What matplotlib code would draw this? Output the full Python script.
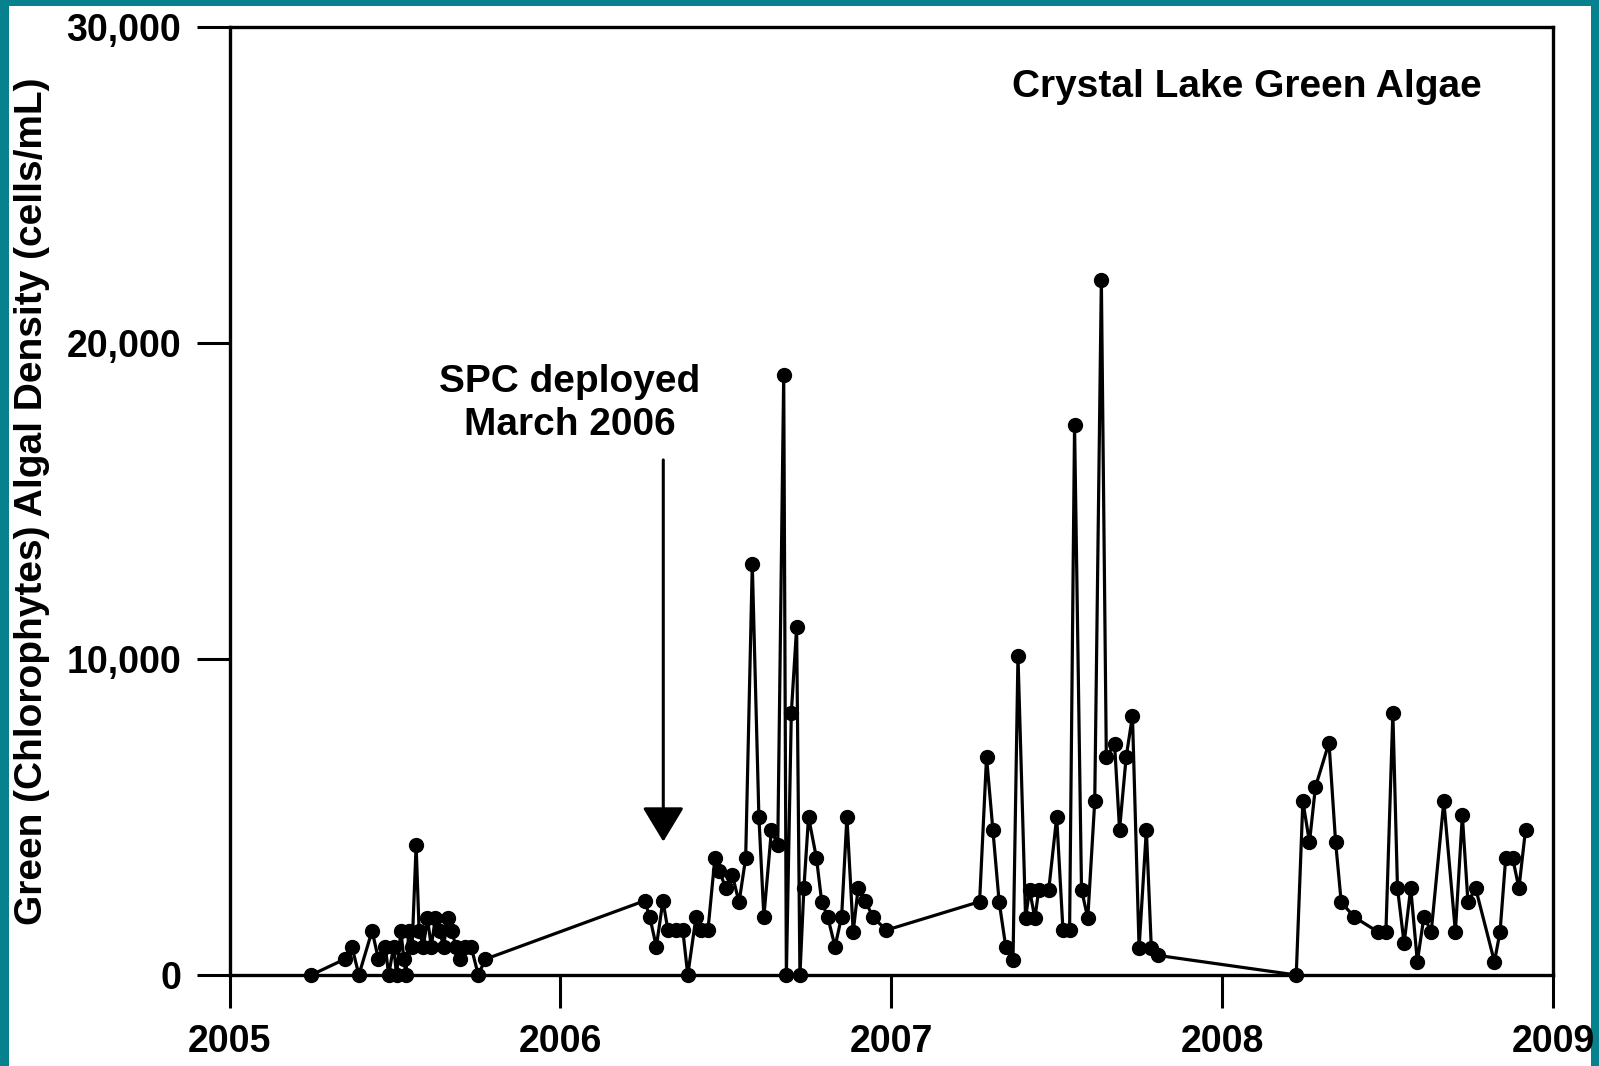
import matplotlib
matplotlib.use("Agg")
import matplotlib.pyplot as plt
from matplotlib.patches import Rectangle

# ---- data (decimal year, cells/mL) ----
years_2005 = [2005.247, 2005.348, 2005.370, 2005.391, 2005.431, 2005.450, 2005.471, 2005.481,
              2005.496, 2005.505, 2005.518, 2005.527, 2005.533, 2005.542, 2005.552, 2005.564,
              2005.573, 2005.586, 2005.598, 2005.610, 2005.622, 2005.635, 2005.647, 2005.659,
              2005.672, 2005.684, 2005.696, 2005.712, 2005.730, 2005.752, 2005.773]
vals_2005 = [0, 500, 900, 0, 1400, 500, 900, 0,
             900, 0, 1400, 500, 0, 1400, 900, 4100,
             1400, 900, 1800, 900, 1800, 1400, 900, 1800,
             1400, 900, 500, 900, 900, 0, 500]

years_2006 = [2006.255, 2006.270, 2006.290, 2006.310, 2006.325, 2006.350, 2006.370, 2006.385,
              2006.410, 2006.425, 2006.446, 2006.467, 2006.480, 2006.500, 2006.520, 2006.540,
              2006.560, 2006.580, 2006.600, 2006.615, 2006.638, 2006.657, 2006.675, 2006.683,
              2006.698, 2006.714, 2006.724, 2006.736, 2006.750, 2006.774, 2006.790, 2006.808,
              2006.830, 2006.850, 2006.866, 2006.885, 2006.900, 2006.922, 2006.944, 2006.985]
vals_2006 = [2350, 1840, 900, 2350, 1420, 1420, 1420, 0,
             1840, 1420, 1420, 3700, 3300, 2750, 3150, 2300,
             3700, 13000, 5000, 1840, 4600, 4100, 19000, 0,
             8300, 11000, 0, 2750, 5000, 3700, 2300, 1840,
             900, 1840, 5000, 1360, 2750, 2350, 1840, 1420]

years_2007 = [2007.267, 2007.288, 2007.307, 2007.326, 2007.346, 2007.368, 2007.383, 2007.406,
              2007.418, 2007.434, 2007.446, 2007.476, 2007.500, 2007.519, 2007.539, 2007.554,
              2007.575, 2007.594, 2007.615, 2007.635, 2007.650, 2007.675, 2007.690, 2007.710,
              2007.729, 2007.749, 2007.771, 2007.786, 2007.806]
vals_2007 = [2320, 6900, 4600, 2320, 900, 480, 10100, 1800,
             2700, 1800, 2700, 2700, 5000, 1420, 1420, 17400,
             2700, 1800, 5500, 22000, 6900, 7300, 4600, 6900,
             8200, 850, 4600, 850, 620]

years_2008 = [2008.224, 2008.244, 2008.264, 2008.282, 2008.323, 2008.343, 2008.360, 2008.400,
              2008.470, 2008.495, 2008.516, 2008.530, 2008.550, 2008.570, 2008.590, 2008.610,
              2008.632, 2008.670, 2008.705, 2008.726, 2008.743, 2008.766, 2008.823, 2008.840,
              2008.857, 2008.878, 2008.897, 2008.917]
vals_2008 = [0, 5500, 4200, 5950, 7350, 4200, 2300, 1830,
             1370, 1370, 8300, 2750, 1000, 2750, 420, 1850,
             1370, 5500, 1370, 5050, 2300, 2750, 420, 1370,
             3700, 3700, 2750, 4600]

x_ticks = [2005, 2006, 2007, 2008, 2009]
x_labels = ["2005", "2006", "2007", "2008", "2009"]
y_ticks = [0, 10000, 20000, 30000]
y_labels = ["0", "10,000", "20,000", "30,000"]

title_text = "Crystal Lake Green Algae"
ylabel_text = "Green (Chlorophytes) Algal Density (cells/mL)"
annot_text = "SPC deployed\nMarch 2006"
annot_x = 2006.029
annot_y = 18100
arrow_x = 2006.311
arrow_from = 16300
arrow_to = 4220

years = years_2005 + years_2006 + years_2007 + years_2008
vals = vals_2005 + vals_2006 + vals_2007 + vals_2008

plt.rcParams['font.family'] = ['Liberation Sans', 'DejaVu Sans']
plt.rcParams['font.weight'] = 'bold'

W, H = 1599, 1066
fig = plt.figure(figsize=(W / 100, H / 100), dpi=100)
teal = "#06828f"
fig.patch.set_facecolor(teal)
bg = Rectangle((9 / W, 0), (W - 17) / W, (H - 6) / H,
               transform=fig.transFigure, facecolor="white",
               edgecolor="none", zorder=-10)
fig.add_artist(bg)

ax = fig.add_axes([229.5 / W, 1 - 975 / H, (1553 - 229.5) / W, (975 - 27) / H])
ax.set_zorder(1)
ax.set_facecolor("white")
ax.plot(years, vals, color="black", lw=2.3, marker="o", ms=10,
        mfc="black", mec="black", clip_on=False, zorder=3)

ax.set_xlim(2005, 2009)
ax.set_ylim(0, 30000)
ax.set_xticks(x_ticks)
ax.set_xticklabels(x_labels)
ax.set_yticks(y_ticks)
ax.set_yticklabels(y_labels)
ax.tick_params(axis="both", direction="out", length=24, width=2.2,
               labelsize=27, color="black")
ax.tick_params(axis="x", pad=11)
ax.tick_params(axis="y", pad=11)
for lab in ax.get_xticklabels() + ax.get_yticklabels():
    lab.set_fontweight("bold")
for s in ax.spines.values():
    s.set_linewidth(2.4)
    s.set_color("black")

ax.set_ylabel(ylabel_text, fontsize=28, fontweight="bold")
ax.yaxis.set_label_coords(-0.136, 0.5)

ax.text(0.946, 0.937, title_text, transform=ax.transAxes, ha="right", va="center",
        fontsize=28, fontweight="bold")
ax.text(annot_x, annot_y, annot_text, ha="center", va="center", fontsize=28,
        fontweight="bold", linespacing=1.25)
ax.annotate("", xy=(arrow_x, arrow_to), xytext=(arrow_x, arrow_from),
            arrowprops=dict(arrowstyle="-|>,head_length=2.15,head_width=1.3",
                            color="black", lw=2.2, shrinkA=0, shrinkB=0))

fig.savefig("out.png", dpi=100, facecolor=fig.get_facecolor())
